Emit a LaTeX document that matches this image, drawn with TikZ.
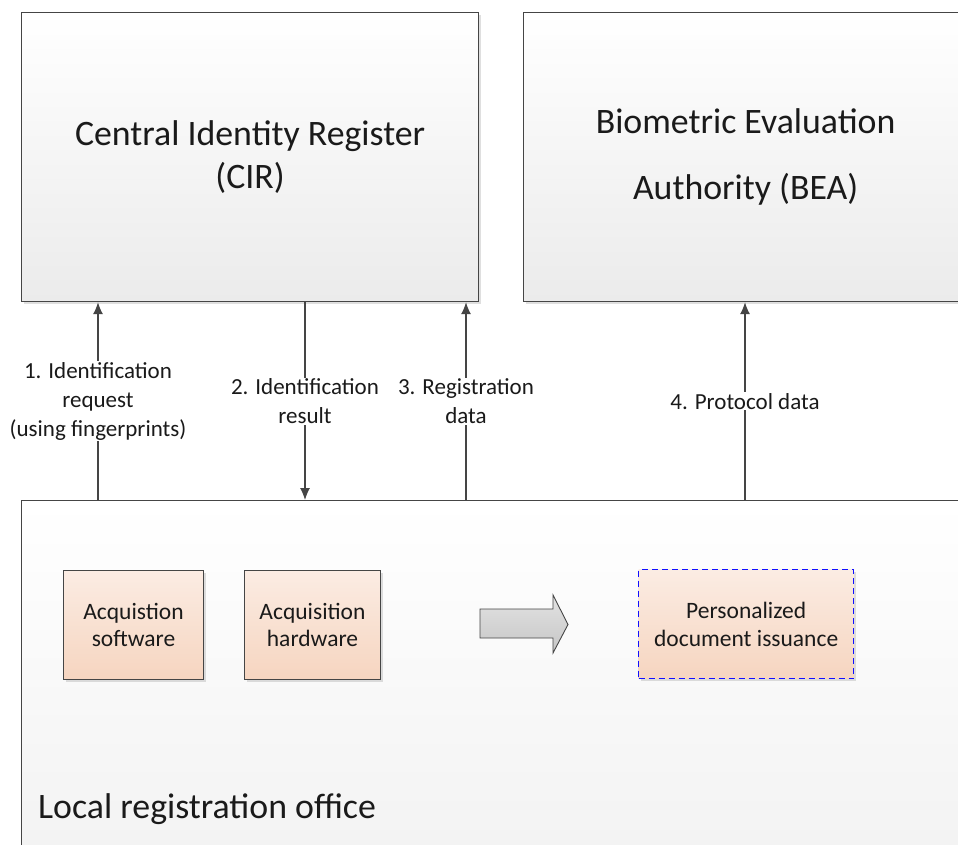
\documentclass[tikz,border=0pt]{standalone}
\usepackage{fontspec}
\setmainfont{Carlito}
\usetikzlibrary{shadows,arrows.meta}
\definecolor{edgegray}{HTML}{454545}
\definecolor{txtgray}{HTML}{1A1A1A}
\definecolor{peachtop}{HTML}{FBECE3}
\definecolor{peachbot}{HTML}{F6D5C0}
\definecolor{boxbot}{HTML}{EBEBEB}
\definecolor{dashblue}{HTML}{1010FF}
\tikzset{
  bigbox/.style={draw=edgegray, line width=1.2pt, top color=white, bottom color=boxbot,
    drop shadow={opacity=0.25, shadow xshift=2pt, shadow yshift=-2pt},
    align=center, text=txtgray, inner sep=0pt, anchor=north west},
  smallbox/.style={draw=edgegray, line width=1pt, top color=peachtop, bottom color=peachbot,
    align=center, text=txtgray, inner sep=0pt, anchor=north west,
    font=\fontsize{23.5}{27.5}\selectfont},
  shadowed/.style={drop shadow={opacity=0.25, shadow xshift=2pt, shadow yshift=-2pt}},
  conn/.style={draw=edgegray, line width=1.2pt, -{Latex[length=12pt,width=10pt]}},
  lbl/.style={fill=white, text=txtgray, align=center, inner sep=1pt,
    font=\fontsize{23}{29}\selectfont},
}
\begin{document}
\begin{tikzpicture}[x=1pt,y=-1pt]
\useasboundingbox (0,0) rectangle (958,844);
\clip (0,0) rectangle (958,844);
\fill[white] (0,0) rectangle (958,844);
% main boxes
\node[bigbox, minimum width=457pt, minimum height=289pt,
      font=\fontsize{35.8}{43}\selectfont] (cir) at (21,12)
      {Central Identity Register\\(CIR)};
\node[bigbox, minimum width=444pt, minimum height=289pt,
      font=\fontsize{35.8}{66}\selectfont] (bea) at (523,12)
      {Biometric Evaluation\\Authority (BEA)};
\node[bigbox, minimum width=980pt, minimum height=400pt, top color=white, bottom color=boxbot!70!white] (lro) at (21,500) {};
\node[anchor=base west, text=txtgray, inner sep=0pt, font=\fontsize{35.8}{43}\selectfont] (lrotxt) at (38,818) {Local registration office};
% inner boxes
\node[smallbox, shadowed, minimum width=140pt, minimum height=109pt] (asw) at (63,570) {Acquistion\\software};
\node[smallbox, shadowed, minimum width=136pt, minimum height=109pt] (ahw) at (244,570) {Acquisition\\hardware};
\fill[black, opacity=0.12] (641,572) rectangle (856,681);
\node[smallbox, draw=dashblue, line width=1.4pt, dash pattern=on 6pt off 4pt, minimum width=215pt, minimum height=109pt] (pdi) at (638,569) {Personalized\\document issuance};
% block arrow
\draw[draw=edgegray, line width=0.9pt, top color=gray!22, bottom color=gray!45]
  (480,609) -- (553,609) -- (553,595) -- (568,624.5) -- (553,653) -- (553,638) -- (480,638) -- cycle;
% connection points on the office box
\coordinate (c1) at (98,500);
\coordinate (c2) at (305,500);
\coordinate (c3) at (466,500);
\coordinate (c4) at (745,500);
\draw[conn] (c1) -- node[lbl] {1. Identification\\request\\(using fingerprints)} (c1 |- cir.south);
\draw[conn] (c2 |- cir.south) -- node[lbl] {2. Identification\\result} (c2);
\draw[conn] (c3) -- node[lbl] {3. Registration\\data} (c3 |- cir.south);
\draw[conn] (c4) -- node[lbl] {4. Protocol data} (c4 |- bea.south);
\end{tikzpicture}
\end{document}
